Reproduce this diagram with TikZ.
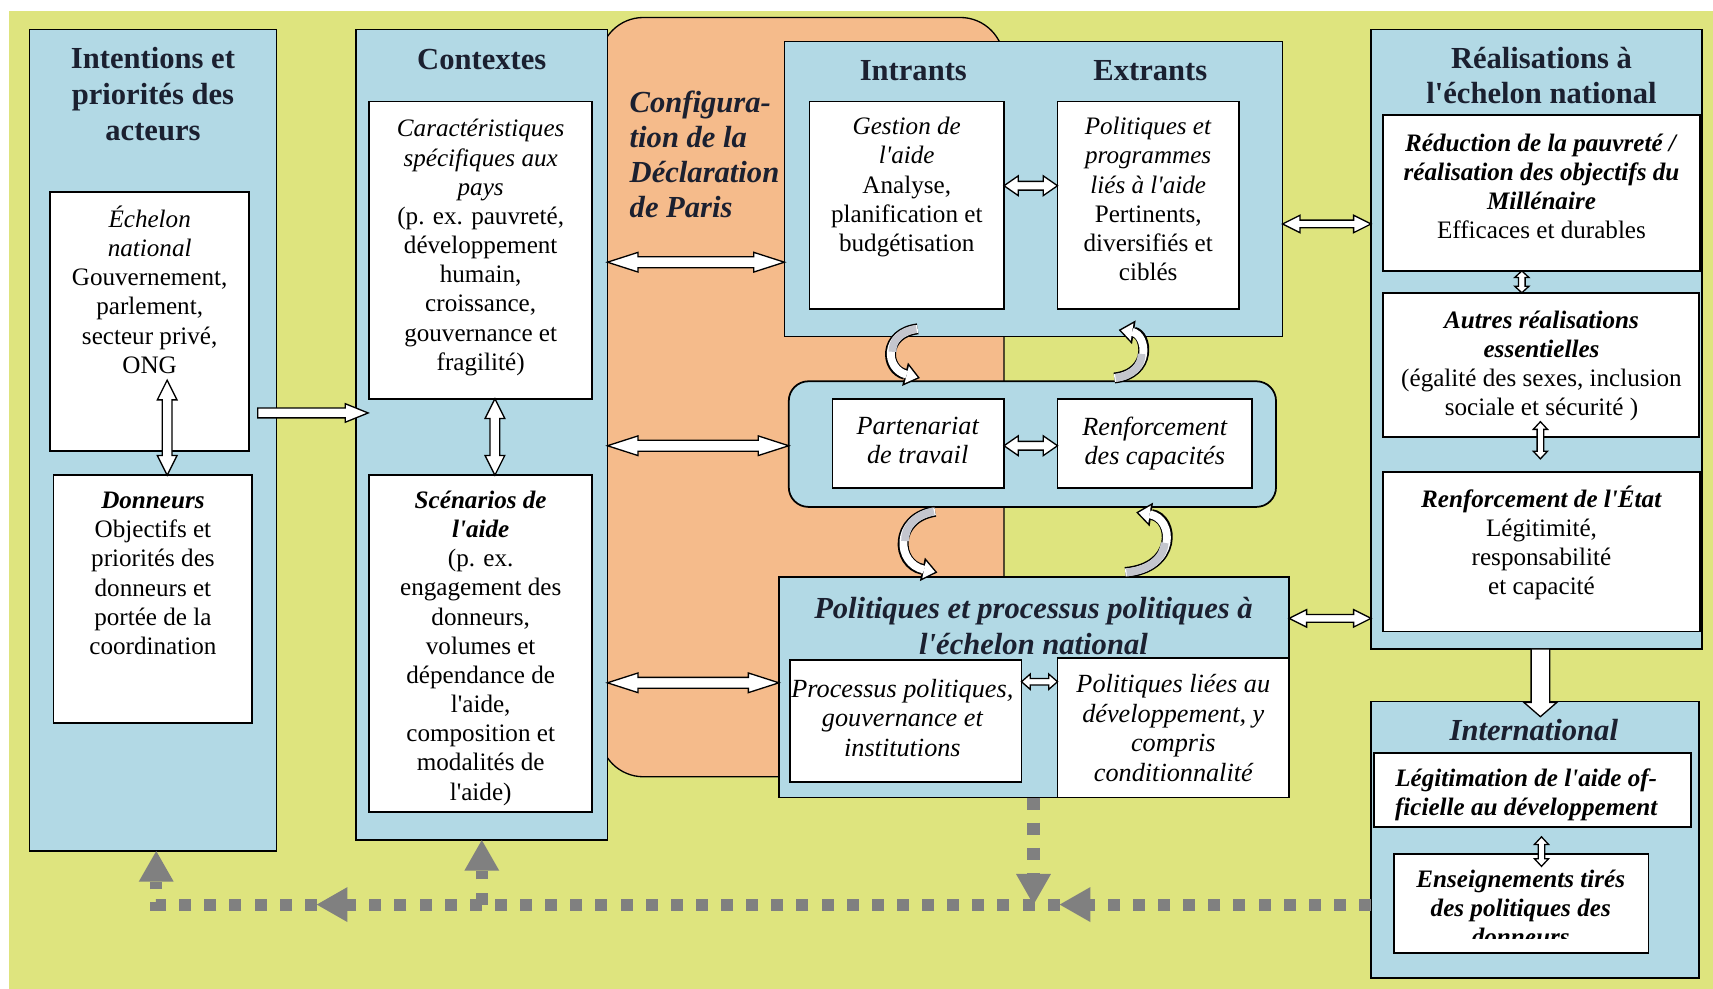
\documentclass[tikz,border=0pt]{standalone}
\usepackage{fontspec}
\setmainfont{Liberation Serif}[Ligatures=TeXOff]
\usetikzlibrary{calc,fit,arrows.meta}
\definecolor{bgy}{HTML}{DEE47E}
\definecolor{lblue}{HTML}{B2D9E5}
\definecolor{orng}{HTML}{F5BB8B}
\definecolor{ttlc}{HTML}{1B2030}
\definecolor{dgray}{HTML}{808080}
\definecolor{shade}{HTML}{C4C6CE}
\tikzset{
 bbox/.style={draw=black, line width=0.8pt, fill=lblue, inner sep=0pt, outer sep=0pt},
 wbox/.style={draw=black, line width=0.8pt, fill=white, inner sep=0pt, outer sep=0pt},
 txt/.style={font=\fontsize{11.5}{13.35}\selectfont, align=center, anchor=north, inner sep=0pt, execute at begin node=\strut},
 ttl/.style={font=\fontsize{14}{16.5}\selectfont\bfseries, text=ttlc, align=center, anchor=north, inner sep=0pt, execute at begin node=\strut},
 blk/.style={draw=black, fill=white, line width=0.6pt, line join=miter},
 dotln/.style={draw=dgray, line width=5.5pt, dash pattern=on 5.5pt off 6pt},
 dtip/.style={-{Triangle[length=14pt,width=16pt,line width=0pt]}},
 cblack/.style={draw=black, line width=5pt, -{Triangle[length=7pt,width=11pt,line width=0pt]}},
 cwhite/.style={draw=white, line width=3.6pt, shorten >=1.1pt, -{Triangle[length=5.1pt,width=8pt,line width=0pt]}},
 cgray/.style={draw=shade, line width=3.6pt, shorten <=0.6pt},
}
% double-headed block arrow: start, end, half shaft, half head, head length
\newcommand\DArrow[5]{%
\draw[blk] (#1) -- ($(#1)!#5!(#2)!#4!90:(#2)$) -- ($(#1)!#5!(#2)!#3!90:(#2)$)
 -- ($(#2)!#5!(#1)!#3!-90:(#1)$) -- ($(#2)!#5!(#1)!#4!-90:(#1)$) -- (#2)
 -- ($(#2)!#5!(#1)!#4!90:(#1)$) -- ($(#2)!#5!(#1)!#3!90:(#1)$)
 -- ($(#1)!#5!(#2)!#3!-90:(#2)$) -- ($(#1)!#5!(#2)!#4!-90:(#2)$) -- cycle;}
% single-headed block arrow
\newcommand\SArrow[5]{%
\draw[blk] ($(#1)!#3!90:(#2)$) -- ($(#2)!#5!(#1)!#3!-90:(#1)$) -- ($(#2)!#5!(#1)!#4!-90:(#1)$)
 -- (#2) -- ($(#2)!#5!(#1)!#4!90:(#1)$) -- ($(#2)!#5!(#1)!#3!90:(#1)$)
 -- ($(#1)!#3!-90:(#2)$) -- cycle;}
\begin{document}
\begin{tikzpicture}[x=0.5pt, y=-0.5pt]
\useasboundingbox (0,0) rectangle (1568,905);
\fill[bgy] (8,10) rectangle (1568,905);
% orange area
\node[fit={(549,16)(919,711)}, draw=black, line width=0.6pt, fill=orng, rounded corners=20pt, inner sep=0pt] (cfg) {};
% blue boxes
\node[bbox, fit={(27,27)(253,779)}] (int) {};
\node[bbox, fit={(326,27)(556,769)}] (ctx) {};
\node[bbox, fit={(718,38)(1174,308)}] (inp) {};
\node[bbox, rounded corners=9pt, fit={(722,349)(1168,464)}] (mid) {};
\node[bbox, fit={(713,528)(1180,730)}] (ppn) {};
\node[bbox, fit={(1255,27)(1558,594)}] (rea) {};
\node[bbox, fit={(1255,642)(1555,895)}] (itl) {};
% white boxes
\node[wbox, fit={(46,176)(228,413)}] (ech) {};
\node[wbox, fit={(49,435)(231,662)}] (don) {};
\node[wbox, fit={(338,93)(542,365)}] (car) {};
\node[wbox, fit={(338,435)(542,743)}] (sce) {};
\node[wbox, fit={(741,93)(919,283)}] (ges) {};
\node[wbox, fit={(968,93)(1134,283)}] (pol) {};
\node[wbox, fit={(762,365)(919,447)}] (par) {};
\node[wbox, fit={(968,365)(1146,447)}] (ren) {};
\node[wbox, fit={(723,604)(935,716)}] (pro) {};
\node[wbox, fit={(968,602)(1180,730)}] (pli) {};
\node[wbox, fit={(1266,105)(1556,248)}] (red) {};
\node[wbox, fit={(1266,268)(1555,400)}] (aut) {};
\node[wbox, fit={(1266,432)(1556,578)}] (ret) {};
\node[wbox, fit={(1258,689)(1548,757)}] (leg) {};
\node[wbox, fit={(1276,782)(1509,872)}] (ens) {};
% texts
\node[ttl] (tInt) at (140,43) {Intentions et\\priorités des\\acteurs};
\node[txt] (tEch) at (137,188) {\textit{Échelon}\\\textit{national}\\Gouvernement,\\parlement,\\secteur privé,\\ONG};
\node[txt] (tDon) at (140,450) {\textbf{\textit{Donneurs}}\\Objectifs et\\priorités des\\donneurs et\\portée de la\\coordination};
\node[ttl] (tCtx) at (441,40) {Contextes};
\node[txt] (tCar) at (440,109) {\textit{Caractéristiques}\\\textit{spécifiques aux}\\\textit{pays}\\(p. ex. pauvreté,\\développement\\humain,\\croissance,\\gouvernance et\\fragilité)};
\node[txt] (tSce) at (440,449) {\textbf{\textit{Scénarios de}}\\\textbf{\textit{l'aide}}\\(p. ex.\\engagement des\\donneurs,\\volumes et\\dépendance de\\l'aide,\\composition et\\modalités de\\l'aide)};
\node[ttl, font=\fontsize{14}{16}\selectfont\bfseries\itshape, anchor=north west, align=left] (tCfg) at (576,83) {Configura-\\tion de la\\Déclaration\\de Paris};
\node[ttl] (tIn) at (836,50) {Intrants};
\node[ttl] (tEx) at (1053,50) {Extrants};
\node[txt] (tGes) at (830,107) {\textit{Gestion de}\\\textit{l'aide}\\Analyse,\\planification et\\budgétisation};
\node[txt] (tPol) at (1051,107) {\textit{Politiques et}\\\textit{programmes}\\\textit{liés à l'aide}\\Pertinents,\\diversifiés et\\ciblés};
\node[txt, font=\fontsize{12}{13.35}\selectfont\itshape] (tPar) at (840,381) {Partenariat\\de travail};
\node[txt, font=\fontsize{12}{13.35}\selectfont\itshape] (tRen) at (1057,381) {Renforcement\\des capacités};
\node[ttl, font=\fontsize{14}{16.5}\selectfont\bfseries\itshape] (tPpn) at (946,546) {Politiques et processus politiques à\\l'échelon national};
\node[txt, font=\fontsize{12}{13.5}\selectfont\itshape] (tPro) at (826,621) {Processus politiques,\\gouvernance et\\institutions};
\node[txt, font=\fontsize{12}{13.5}\selectfont\itshape] (tPli) at (1074,617) {Politiques liées au\\développement, y\\compris\\conditionnalité};
\node[ttl, font=\fontsize{14}{16}\selectfont\bfseries] (tRea) at (1411,43) {Réalisations à\\l'échelon national};
\node[txt] (tRed) at (1411,122) {\textbf{\textit{Réduction de la pauvreté /}}\\\textbf{\textit{réalisation des objectifs du}}\\\textbf{\textit{Millénaire}}\\Efficaces et durables};
\node[txt] (tAut) at (1411,284) {\textbf{\textit{Autres réalisations}}\\\textbf{\textit{essentielles}}\\(égalité des sexes, inclusion\\sociale et sécurité )};
\node[txt] (tRet) at (1411,444) {\textbf{\textit{Renforcement de l'État}}\\Légitimité,\\responsabilité\\et capacité};
\node[ttl, font=\fontsize{14}{16.5}\selectfont\bfseries\itshape] (tItl) at (1404,654) {International};
\node[txt, font=\fontsize{11.5}{13.5}\selectfont\bfseries\itshape] (tLeg) at (1397,703) {Légitimation de l'aide of-\\ficielle au développement};
\begin{scope}
\clip (ens.north west) rectangle ([yshift=6.3pt]ens.south east);
\node[txt, font=\fontsize{11.5}{13.35}\selectfont\bfseries\itshape] (tEns) at (1392,796) {Enseignements tirés\\des politiques des\\donneurs};
\end{scope}
% block arrows
\coordinate (e1) at (153,348); \coordinate (e2) at (e1 |- don.north);
\DArrow{e1}{e2}{2.25pt}{4.5pt}{9pt}
\coordinate (k1) at (453,0 |- car.south); \coordinate (k2) at (k1 |- sce.north);
\DArrow{k1}{k2}{2.25pt}{4.5pt}{9pt}
\coordinate (i1) at (236,378); \coordinate (i2) at (337,378);
\SArrow{i1}{i2}{2.25pt}{4.25pt}{10.5pt}
\coordinate (h1) at (ctx.east |- 0,240); \coordinate (h2) at (inp.west |- 0,240);
\DArrow{h1}{h2}{2.5pt}{4.5pt}{14pt}
\coordinate (h3) at (ctx.east |- 0,408); \coordinate (h4) at (mid.west |- 0,408);
\DArrow{h3}{h4}{2.5pt}{4.5pt}{14pt}
\coordinate (h5) at (ctx.east |- 0,625); \coordinate (h6) at (ppn.west |- 0,625);
\DArrow{h5}{h6}{2.5pt}{4.5pt}{14pt}
\coordinate (g1) at (ges.east |- 0,170); \coordinate (g2) at (pol.west |- 0,170);
\DArrow{g1}{g2}{2pt}{4.5pt}{6.5pt}
\coordinate (p1) at (par.east |- 0,408); \coordinate (p2) at (ren.west |- 0,408);
\DArrow{p1}{p2}{2pt}{4.5pt}{6.5pt}
\coordinate (q1) at (pro.east |- 0,624); \coordinate (q2) at (pli.west |- 0,624);
\DArrow{q1}{q2}{1.5pt}{3.5pt}{4pt}
\coordinate (r1) at (inp.east |- 0,205); \coordinate (r2) at (rea.west |- 0,205);
\DArrow{r1}{r2}{1.75pt}{4pt}{8pt}
\coordinate (r3) at (ppn.east |- 0,566); \coordinate (r4) at (rea.west |- 0,566);
\DArrow{r3}{r4}{1.75pt}{4pt}{8pt}
\coordinate (s1) at (1393,0 |- red.south); \coordinate (s2) at (s1 |- aut.north);
\DArrow{s1}{s2}{1.5pt}{3.25pt}{3pt}
\coordinate (s3) at (1410,386); \coordinate (s4) at (1410,420);
\DArrow{s3}{s4}{1.5pt}{3.25pt}{3.5pt}
\coordinate (s5) at (1411,766); \coordinate (s6) at (1411,793);
\DArrow{s5}{s6}{1.5pt}{3.25pt}{3.5pt}
\coordinate (v1) at (1410,0 |- rea.south); \coordinate (v2) at (1410,656);
\SArrow{v1}{v2}{4.25pt}{7.5pt}{6.5pt}
% curved arrows
\coordinate (ca0) at (840,301); \coordinate (ca1) at (842,346);
\draw[cblack] (ca0) .. controls (808,305) and (810,338) .. (ca1);
\draw[cwhite] (ca0) .. controls (808,305) and (810,338) .. (ca1);
\draw[cgray] (ca0) .. controls (824,303) and (816.5,312.25) .. (817,322);
\coordinate (cb0) at (1020,346); \coordinate (cb1) at (1024,302);
\draw[cblack] (cb0) .. controls (1055,342) and (1050,306) .. (cb1);
\draw[cwhite] (cb0) .. controls (1055,342) and (1050,306) .. (cb1);
\draw[cgray] (cb0) .. controls (1037.5,344) and (1045,334) .. (1044.9,324);
\coordinate (cc0) at (856,468); \coordinate (cc1) at (858,524);
\draw[cblack] (cc0) .. controls (818,474) and (820,516) .. (cc1);
\draw[cwhite] (cc0) .. controls (818,474) and (820,516) .. (cc1);
\draw[cgray] (cc0) .. controls (837,471) and (828,483) .. (828.5,495.25);
\coordinate (cd0) at (1030,524); \coordinate (cd1) at (1040,469);
\draw[cblack] (cd0) .. controls (1078,520) and (1075,474) .. (cd1);
\draw[cwhite] (cd0) .. controls (1078,520) and (1075,474) .. (cd1);
\draw[cgray] (cd0) .. controls (1054,522) and (1065.25,509.5) .. (1066.1,496.9);
% dotted feedback lines
\coordinate (d0) at (itl.west |- 0,828);
\coordinate (d1) at (970,828);
\coordinate (d2) at (290,828);
\coordinate (d3) at (143,828);
\coordinate (d4) at (d3 |- int.south);
\coordinate (d5) at (441,828);
\coordinate (d6) at (d5 |- ctx.south);
\coordinate (d7) at (946,0 |- ppn.south);
\coordinate (d8) at (946,828);
\draw[dotln, dtip] (d0) -- (d1);
\draw[dotln, dtip] (d1) -- (d2);
\draw[dotln, dtip] (d2) -- (d3) -- (d4);
\draw[dotln, dtip] (d5) -- (d6);
\draw[dotln, dtip] (d7) -- (d8);
\end{tikzpicture}
\end{document}
